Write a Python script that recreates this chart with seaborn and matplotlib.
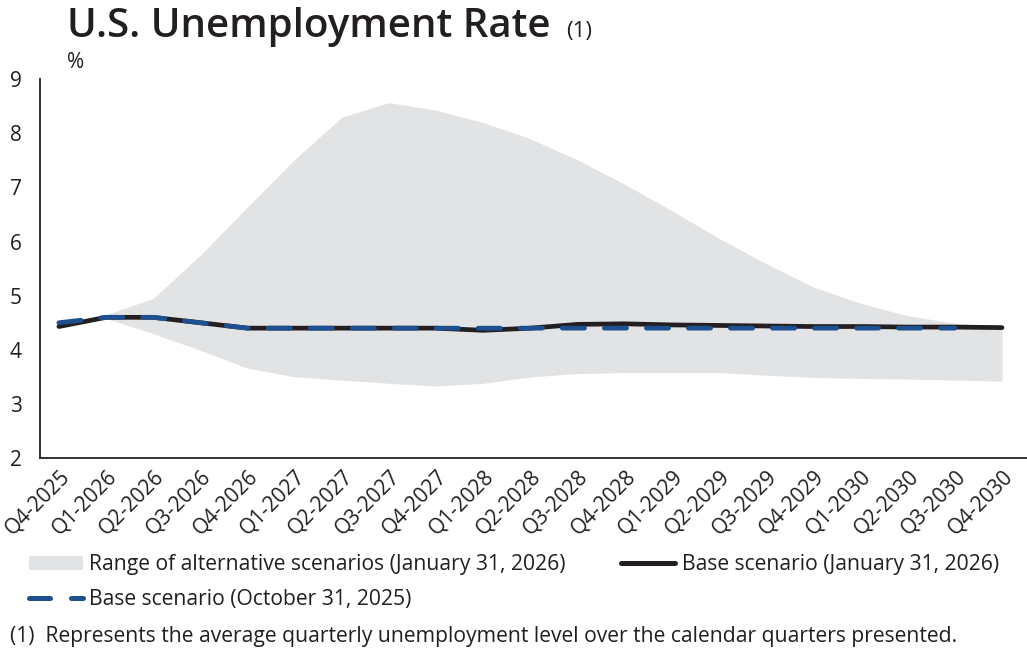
import matplotlib
matplotlib.use("Agg")
import matplotlib.pyplot as plt
import numpy as np
import pandas as pd
import seaborn as sns
from matplotlib.lines import Line2D
from matplotlib.patches import Patch

quarters = [
    "Q4-2025", "Q1-2026", "Q2-2026", "Q3-2026", "Q4-2026", "Q1-2027", "Q2-2027",
    "Q3-2027", "Q4-2027", "Q1-2028", "Q2-2028", "Q3-2028", "Q4-2028", "Q1-2029",
    "Q2-2029", "Q3-2029", "Q4-2029", "Q1-2030", "Q2-2030", "Q3-2030", "Q4-2030",
]
range_high = [4.48, 4.65, 4.95, 5.75, 6.64, 7.52, 8.30, 8.57, 8.43, 8.20, 7.90, 7.51,
              7.06, 6.57, 6.06, 5.59, 5.16, 4.86, 4.63, 4.49, 4.42]
range_low = [4.42, 4.58, 4.30, 3.99, 3.66, 3.50, 3.44, 3.38, 3.33, 3.38, 3.50, 3.56,
             3.58, 3.58, 3.58, 3.53, 3.49, 3.47, 3.46, 3.44, 3.42]
base_jan_2026 = [4.43, 4.60, 4.60, 4.50, 4.40, 4.40, 4.40, 4.40, 4.40, 4.36, 4.40, 4.47,
                 4.48, 4.46, 4.45, 4.44, 4.43, 4.43, 4.42, 4.42, 4.41]
base_oct_2025 = [4.50, 4.60, 4.60, 4.50, 4.40, 4.40, 4.40, 4.40, 4.40, 4.40, 4.40, 4.40,
                 4.40, 4.40, 4.40, 4.40, 4.40, 4.40, 4.40, 4.40, np.nan]

label_range = "Range of alternative scenarios (January 31, 2026)"
label_jan = "Base scenario (January 31, 2026)"
label_oct = "Base scenario (October 31, 2025)"

df = pd.DataFrame({
    "pos": np.arange(len(quarters)),
    "quarter": quarters,
    "high": range_high,
    "low": range_low,
    "jan": base_jan_2026,
    "oct": base_oct_2025,
})

GREY = "#e2e3e5"
BLACK = "#231f20"
BLUE = "#1d4f91"

sns.set_style("white")
plt.rcParams["font.family"] = ["Open Sans", "DejaVu Sans"]

fig = plt.figure(figsize=(10.27, 6.5), dpi=100)
ax = fig.add_axes([0.039, 0.2954, 0.961, 0.5826])

ax.fill_between(df["pos"], df["low"], df["high"], color=GREY, linewidth=0, zorder=1)
sns.lineplot(data=df, x="pos", y="jan", ax=ax, color=BLACK, linewidth=3.4,
             solid_capstyle="round", zorder=3)
sns.lineplot(data=df, x="pos", y="oct", ax=ax, color=BLUE, linewidth=3.4,
             dashes=(4.7, 4.2), dash_capstyle="round", zorder=4)

ax.set_xlim(-0.4, len(quarters) - 1 + 0.53)
ax.set_ylim(2, 9)
ax.set_yticks(range(2, 10))
ax.set_xticks(df["pos"])
ax.set_xticklabels(quarters, rotation=45, ha="right", rotation_mode="anchor")
ax.tick_params(axis="both", length=0, labelsize=15, colors=BLACK, pad=6)
ax.tick_params(axis="y", pad=13)
ax.set_xlabel("")
ax.set_ylabel("")
for side in ["top", "right"]:
    ax.spines[side].set_visible(False)
for side in ["left", "bottom"]:
    ax.spines[side].set_color("#333333")
    ax.spines[side].set_linewidth(1.4)

fig.text(0.065, 0.895, "%", fontsize=15, color=BLACK)
fig.text(0.065, 0.943, "U.S. Unemployment Rate", fontsize=29, fontweight="semibold", color=BLACK)
fig.text(0.551, 0.943, "(1)", fontsize=16, color=BLACK)

handles = [
    Patch(facecolor=GREY, edgecolor="none"),
    Line2D([], [], color=BLUE, linewidth=3.6, dashes=(4.2, 4.2), dash_capstyle="round"),
    Line2D([], [], color=BLACK, linewidth=3.6, solid_capstyle="round"),
]
labels = [label_range, label_oct, label_jan]
fig.legend(handles, labels, ncol=2, loc="upper left", bbox_to_anchor=(0.028, 0.147),
           bbox_transform=fig.transFigure, frameon=False, fontsize=15.2,
           handlelength=2.55, handleheight=0.6, handletextpad=0.3, columnspacing=2.65,
           labelspacing=0.65, borderaxespad=0, borderpad=0, labelcolor=BLACK)

fig.text(0.010, 0.012, "(1)  Represents the average quarterly unemployment level over the calendar quarters presented.",
         fontsize=15.2, color=BLACK)

fig.savefig("out.png", dpi=100)
